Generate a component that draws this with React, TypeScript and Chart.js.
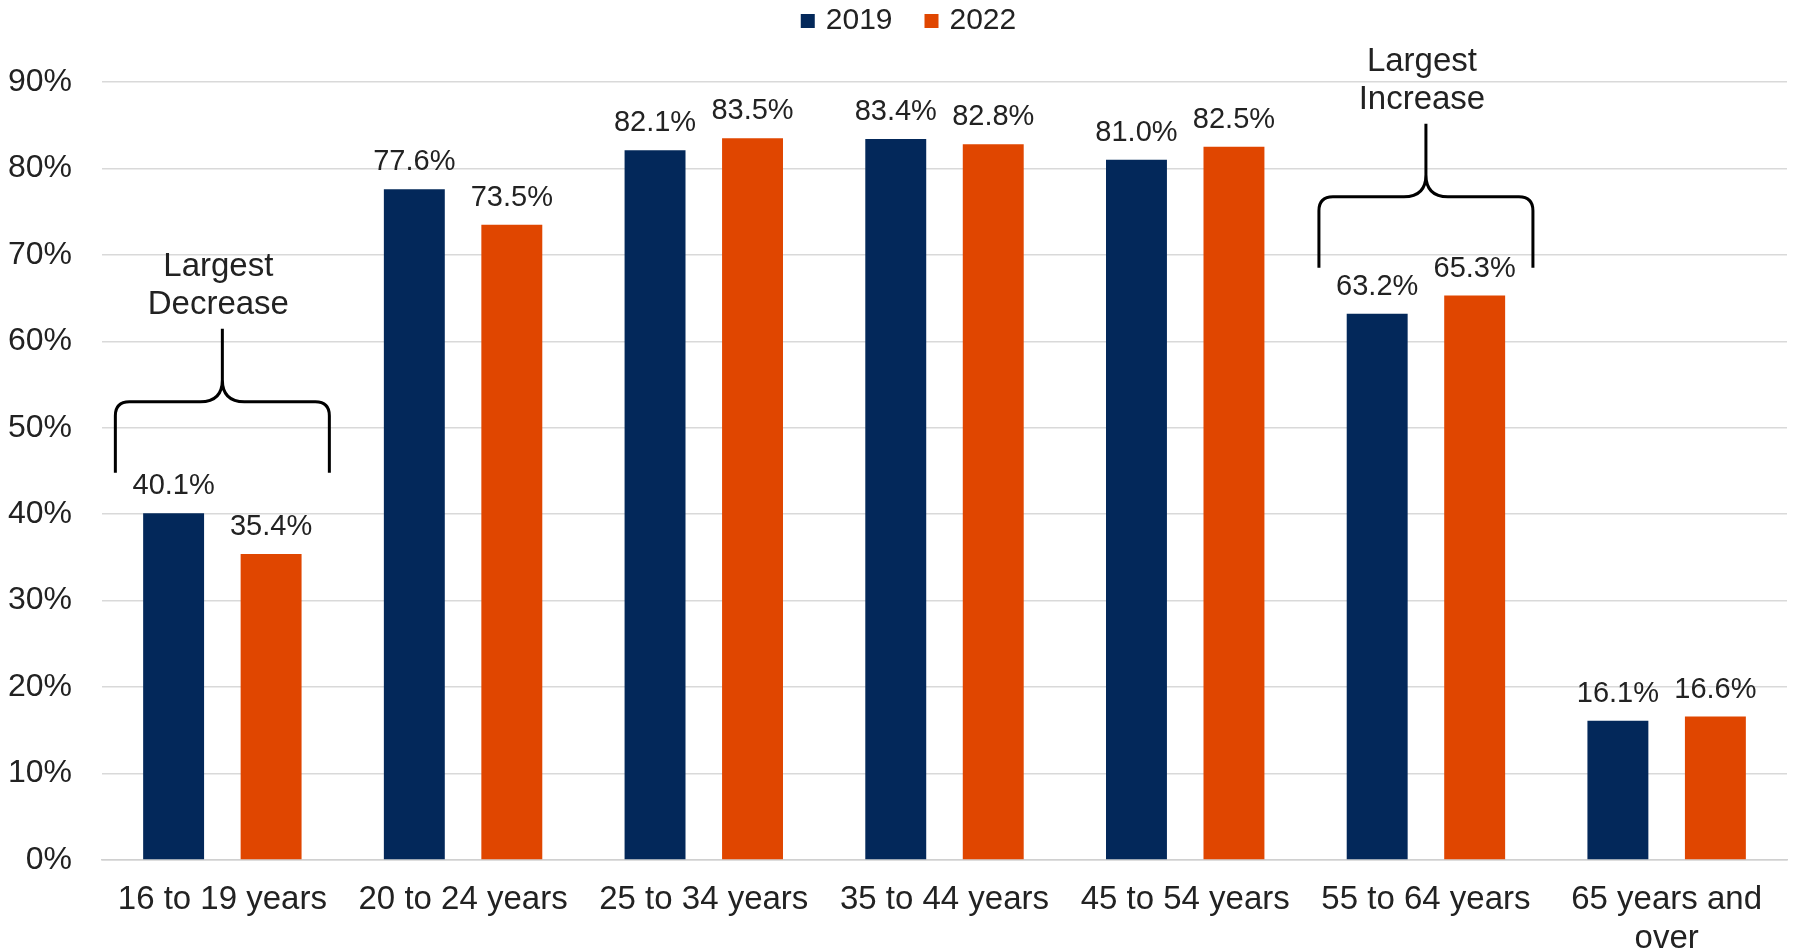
import React, { useEffect, useRef } from "react";
import { Chart, registerables } from "chart.js";

Chart.register(...registerables);

const categories: (string | string[])[] = [
  "16 to 19 years",
  "20 to 24 years",
  "25 to 34 years",
  "35 to 44 years",
  "45 to 54 years",
  "55 to 64 years",
  ["65 years and", "over"],
];
const seriesNames = ["2019", "2022"];
const values2019 = [40.1, 77.6, 82.1, 83.4, 81.0, 63.2, 16.1];
const values2022 = [35.4, 73.5, 83.5, 82.8, 82.5, 65.3, 16.6];
const yTickValues = [0, 10, 20, 30, 40, 50, 60, 70, 80, 90];

const annotationTexts = [
  ["Largest", "Decrease"],
  ["Largest", "Increase"],
];
const annotationCategoryIndex = [0, 5];
const annotationBraceBaseValue = [44.8, 68.5];

const COLORS = ["#03285A", "#E04600"];
const FONT = "'Liberation Sans', Arial, sans-serif";
const TEXT = "#222222";

const labelsPlugin = {
  id: "customLabels",
  afterDraw(chart: any) {
    const ctx = chart.ctx;
    const xs = chart.scales.x;
    const ys = chart.scales.y;
    ctx.save();
    // data labels
    ctx.font = `29px ${FONT}`;
    ctx.fillStyle = TEXT;
    ctx.textAlign = "center";
    ctx.textBaseline = "alphabetic";
    chart.data.datasets.forEach((ds: any, di: number) => {
      const meta = chart.getDatasetMeta(di);
      meta.data.forEach((bar: any, i: number) => {
        ctx.fillText(ds.data[i].toFixed(1) + "%", bar.x, bar.y - 19);
      });
    });

    // legend
    ctx.font = `30px ${FONT}`;
    const gapBoxText = 11;
    const gapItems = 32;
    const box = 14;
    const widths = chart.data.datasets.map(
      (ds: any) => box + gapBoxText + ctx.measureText(ds.label).width
    );
    const total = widths.reduce((a: number, b: number) => a + b, 0) + gapItems * (widths.length - 1);
    let x = chart.width / 2 + 12 - total / 2;
    ctx.textAlign = "left";
    chart.data.datasets.forEach((ds: any, di: number) => {
      ctx.fillStyle = ds.backgroundColor;
      ctx.fillRect(x, 14, box, box);
      ctx.fillStyle = TEXT;
      ctx.fillText(ds.label, x + box + gapBoxText, 29);
      x += widths[di] + gapItems;
    });

    // brace annotations
    const halfW = 107;
    const legH = 71;
    const tipH = 73;
    const r = 14;
    const r2 = 22;
    annotationCategoryIndex.forEach((ci, k) => {
      const cx = xs.getPixelForValue(ci);
      const yb = ys.getPixelForValue(annotationBraceBaseValue[k]);
      const yh = yb - legH;
      const yt = yh - tipH;
      const L = cx - halfW;
      const R = cx + halfW;
      ctx.strokeStyle = "#000";
      ctx.lineWidth = 3;
      ctx.lineJoin = "round";
      ctx.lineCap = "butt";
      ctx.beginPath();
      ctx.moveTo(L, yb);
      ctx.lineTo(L, yh + r);
      ctx.quadraticCurveTo(L, yh, L + r, yh);
      ctx.lineTo(cx - r2, yh);
      ctx.quadraticCurveTo(cx, yh, cx, yh - r2);
      ctx.lineTo(cx, yt);
      ctx.moveTo(cx, yh - r2);
      ctx.quadraticCurveTo(cx, yh, cx + r2, yh);
      ctx.lineTo(R - r, yh);
      ctx.quadraticCurveTo(R, yh, R, yh + r);
      ctx.lineTo(R, yb);
      ctx.stroke();

      ctx.font = `33px ${FONT}`;
      ctx.fillStyle = TEXT;
      ctx.textAlign = "center";
      ctx.textBaseline = "middle";
      const lines = annotationTexts[k];
      ctx.fillText(lines[1], cx - 4, yt - 24);
      ctx.fillText(lines[0], cx - 4, yt - 62);
    });
    ctx.restore();
  },
};

export default function App() {
  const ref = useRef<HTMLCanvasElement | null>(null);
  useEffect(() => {
    if (!ref.current) return;
    const chart = new Chart(ref.current, {
      type: "bar",
      data: {
        labels: categories as any,
        datasets: [
          { label: seriesNames[0], data: values2019, backgroundColor: COLORS[0] },
          { label: seriesNames[1], data: values2022, backgroundColor: COLORS[1] },
        ],
      },
      options: {
        animation: false,
        responsive: true,
        maintainAspectRatio: false,
        layout: { padding: { top: 82, right: 6, left: 0, bottom: 0 } },
        datasets: { bar: { categoryPercentage: 0.81, barPercentage: 0.625 } } as any,
        plugins: { legend: { display: false }, tooltip: { enabled: false } },
        scales: {
          x: {
            grid: { display: false, drawTicks: false },
            border: { display: true, color: "#d0d0d0", width: 1.5 },
            ticks: {
              color: TEXT,
              font: { family: FONT, size: 33, lineHeight: 1.2 },
              padding: 20,
              autoSkip: false,
              maxRotation: 0,
            },
            afterFit: (s: any) => {
              s.height = 92;
            },
          },
          y: {
            min: 0,
            max: 90,
            afterBuildTicks: (s: any) => {
              s.ticks = yTickValues.map((v) => ({ value: v }));
            },
            grid: { color: "#d9d9d9", lineWidth: 1.5, drawTicks: false },
            border: { display: false },
            ticks: {
              color: TEXT,
              font: { family: FONT, size: 32 },
              padding: 30,
              callback: (v: any) => v + "%",
            },
            afterFit: (s: any) => {
              s.width = 102;
            },
          },
        },
      },
      plugins: [labelsPlugin],
    });
    return () => chart.destroy();
  }, []);
  return (
    <div style={{ position: "fixed", left: 0, top: 0, width: 1793, height: 952, background: "#fff" }}>
      <canvas ref={ref} />
    </div>
  );
}
